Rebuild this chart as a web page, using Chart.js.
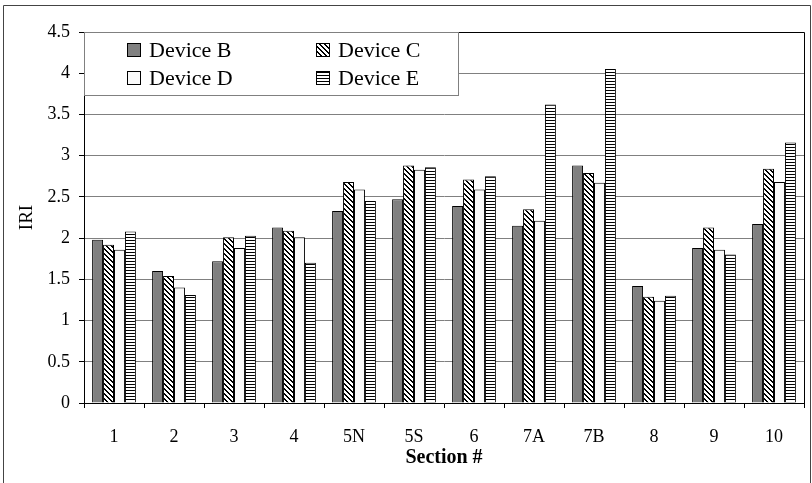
<!DOCTYPE html>
<html>
<head>
<meta charset="utf-8">
<script src="https://cdn.jsdelivr.net/npm/chart.js@4.4.0/dist/chart.umd.min.js"></script>
<style>
  html, body { margin: 0; padding: 0; background: #fff; }
  #wrap { width: 812px; height: 483px; position: relative; }
</style>
</head>
<body>
<div id="wrap"><canvas id="iriChart" width="812" height="483"></canvas></div>
<script>
// Chart data (IRI per section)
const sections = ['1', '2', '3', '4', '5N', '5S', '6', '7A', '7B', '8', '9', '10'];
const deviceB = [1.98, 1.60, 1.72, 2.13, 2.33, 2.47, 2.39, 2.15, 2.88, 1.42, 1.88, 2.17];
const deviceC = [1.92, 1.54, 2.01, 2.09, 2.68, 2.88, 2.71, 2.35, 2.79, 1.29, 2.13, 2.84];
const deviceD = [1.86, 1.40, 1.88, 2.01, 2.59, 2.83, 2.59, 2.21, 2.67, 1.24, 1.86, 2.68];
const deviceE = [2.08, 1.31, 2.03, 1.70, 2.45, 2.86, 2.75, 3.62, 4.05, 1.30, 1.80, 3.16];
const yTicks = [0, 0.5, 1, 1.5, 2, 2.5, 3, 3.5, 4, 4.5];

Chart.defaults.font.family = "'Liberation Serif', 'Times New Roman', serif";
Chart.defaults.color = '#000';

// --- fill patterns (Excel-like hatching) ---
function makePattern(size, painter) {
    const c = document.createElement('canvas');
    c.width = size; c.height = size;
    const g = c.getContext('2d');
    g.fillStyle = '#fff';
    g.fillRect(0, 0, size, size);
    g.fillStyle = '#000';
    painter(g, size);
    return g.createPattern(c, 'repeat');
}
const diagPattern = makePattern(5, (g, s) => {
    for (let y = 0; y < s; y++) {
        g.fillRect(y, y, 1, 1);
        g.fillRect((y + 1) % s, y, 1, 1);
    }
});
const horizPattern = makePattern(3, (g, s) => {
    g.fillRect(0, 0, s, 1);
});

const FILLS = {
    B: '#808080',
    C: diagPattern,
    D: '#fafafa',
    E: horizPattern
};

// legend box + plot frame + outer border
const frameAndLegend = {
    id: 'frameAndLegend',
    afterDraw(chart) {
        const { ctx, chartArea: a } = chart;
        ctx.save();
        ctx.lineWidth = 1;
        // plot frame top + right
        ctx.strokeStyle = '#000';
        ctx.beginPath();
        ctx.moveTo(a.left, a.top + 0.5);
        ctx.lineTo(a.right + 0.5, a.top + 0.5);
        ctx.lineTo(a.right + 0.5, a.bottom);
        ctx.stroke();

        // outer border
        ctx.strokeStyle = '#444';
        ctx.beginPath();
        ctx.moveTo(3.5, 483);
        ctx.lineTo(3.5, 5.5);
        ctx.lineTo(810.5, 5.5);
        ctx.lineTo(810.5, 483);
        ctx.stroke();

        // legend
        const lx = a.left, ly = a.top, lw = 374, lh = 63;
        ctx.fillStyle = '#fff';
        ctx.fillRect(lx, ly, lw, lh);
        ctx.strokeStyle = '#808080';
        ctx.strokeRect(lx + 0.5, ly + 0.5, lw, lh);

        const cols = [127, 316];
        const rows = [50, 78];
        ctx.font = "22px 'Liberation Serif', 'Times New Roman', serif";
        ctx.textBaseline = 'middle';
        ctx.textAlign = 'left';
        chart.data.datasets.forEach((ds, i) => {
            const x = cols[i % 2], y = rows[Math.floor(i / 2)];
            ctx.fillStyle = ds.backgroundColor;
            ctx.fillRect(x, y - 7, 14, 14);
            ctx.strokeStyle = '#000';
            ctx.strokeRect(x + 0.5, y - 6.5, 13, 13);
            ctx.fillStyle = '#000';
            ctx.fillText(ds.label, x + 22, y + 1);
        });
        ctx.restore();
    }
};

function makeDataset(label, data, fill) {
    return {
        label: label,
        data: data,
        backgroundColor: fill,
        borderColor: '#000',
        borderWidth: 1,
        borderSkipped: 'bottom',
        categoryPercentage: 0.73,
        barPercentage: 1.0
    };
}

new Chart(document.getElementById('iriChart'), {
    type: 'bar',
    data: {
        labels: sections,
        datasets: [
            makeDataset('Device B', deviceB, FILLS.B),
            makeDataset('Device C', deviceC, FILLS.C),
            makeDataset('Device D', deviceD, FILLS.D),
            makeDataset('Device E', deviceE, FILLS.E)
        ]
    },
    options: {
        responsive: false,
        animation: false,
        layout: { padding: { left: 0, top: 32, right: 8, bottom: 0 } },
        plugins: {
            legend: { display: false },
            tooltip: { enabled: false }
        },
        scales: {
            x: {
                grid: {
                    display: true, drawOnChartArea: false, offset: true,
                    tickLength: 5, tickColor: '#000'
                },
                border: { color: '#000', width: 1 },
                ticks: { font: { size: 18 }, padding: 18, maxRotation: 0 },
                title: {
                    display: true, text: 'Section #',
                    font: { size: 20, weight: 'bold' },
                    padding: { top: 0, bottom: 13 }
                },
                afterFit(scale) { scale.height = 80; }
            },
            y: {
                min: 0, max: 4.5,
                afterBuildTicks(scale) { scale.ticks = yTicks.map(v => ({ value: v })); },
                grid: { color: '#808080', tickColor: '#000', tickLength: 5 },
                border: { color: '#000', width: 1 },
                ticks: { font: { size: 18 }, padding: 9, callback: v => String(v) },
                title: {
                    display: true, text: 'IRI',
                    font: { size: 19 },
                    padding: { top: 16, bottom: 0 }
                },
                afterFit(scale) { scale.width = 84; }
            }
        }
    },
    plugins: [frameAndLegend]
});
</script>
</body>
</html>
